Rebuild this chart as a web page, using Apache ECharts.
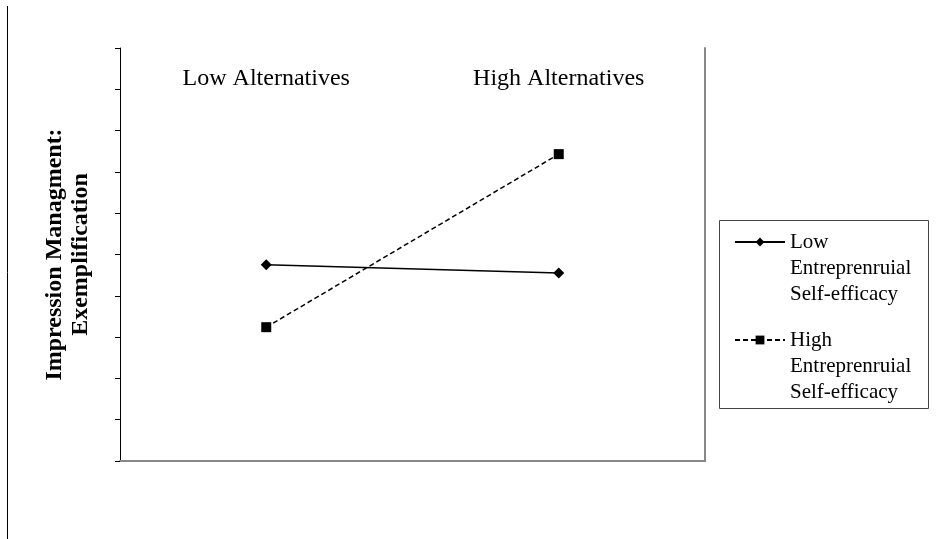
<!DOCTYPE html>
<html>
<head>
<meta charset="utf-8">
<script src="https://cdn.jsdelivr.net/npm/echarts@6/dist/echarts.min.js"></script>
<style>
	html, body { margin: 0; padding: 0; background: #fff; }
	#main { width: 952px; height: 539px; }
</style>
</head>
<body>
<div id="main"></div>
<script>
	// categories and series values (axis 0..10)
	var categories = ['Low Alternatives', 'High Alternatives'];
	var lowSE = [4.75, 4.55];
	var highSE = [3.24, 7.43];
	var seriesNames = ['Low\nEntreprenruial\nSelf-efficacy', 'High\nEntreprenruial\nSelf-efficacy'];
	var yTitle = 'Impression Managment:\nExemplification';

	var serif = '"Liberation Serif", "Times New Roman", serif';

	var myChart = echarts.init(document.getElementById('main'));

	var legendText = {
		fontFamily: serif,
		fontSize: 21,
		color: '#000',
		lineHeight: 26
	};
	// two blank lines first so the icon sits beside the first text line
	var legendFormatter = function (name) {
		return '\n\n' + name;
	};

	myChart.setOption({
		backgroundColor: '#fff',
		animation: false,
		grid: { left: 120, right: 247, top: 48, bottom: 78 },
		xAxis: [{
			type: 'category',
			position: 'top',
			data: categories,
			axisLine: { show: true, lineStyle: { color: '#000', width: 1 } },
			axisTick: { show: false },
			axisLabel: {
				inside: true,
				margin: 19,
				fontFamily: serif,
				fontSize: 24,
				color: '#000'
			}
		}, {
			type: 'category',
			position: 'bottom',
			data: categories,
			axisLine: { show: true, lineStyle: { color: '#888', width: 2 } },
			axisTick: { show: false },
			axisLabel: { show: false }
		}],
		yAxis: [{
			type: 'value',
			min: 0,
			max: 10,
			interval: 1,
			name: yTitle,
			nameLocation: 'middle',
			nameRotate: 90,
			nameGap: 26,
			nameTextStyle: {
				fontFamily: serif,
				fontSize: 24,
				fontWeight: 'bold',
				color: '#000',
				lineHeight: 26
			},
			axisLine: { show: true, lineStyle: { color: '#000', width: 1 } },
			axisTick: { show: true, length: 5, lineStyle: { color: '#000' } },
			axisLabel: { show: false },
			splitLine: { show: false }
		}, {
			type: 'value',
			position: 'right',
			min: 0,
			max: 10,
			axisLine: { show: true, lineStyle: { color: '#888', width: 2 } },
			axisTick: { show: false },
			axisLabel: { show: false },
			splitLine: { show: false }
		}],
		legend: [{
			data: [seriesNames[0]],
			orient: 'vertical',
			left: 734,
			top: 177,
			padding: 0,
			itemWidth: 50,
			itemHeight: 11,
			formatter: legendFormatter,
			textStyle: legendText
		}, {
			data: [seriesNames[1]],
			orient: 'vertical',
			left: 734,
			top: 275,
			padding: 0,
			itemWidth: 50,
			itemHeight: 11,
			formatter: legendFormatter,
			textStyle: legendText
		}],
		graphic: [{
			// page line on the far left
			type: 'line',
			shape: { x1: 7.5, y1: 6, x2: 7.5, y2: 539 },
			style: { stroke: '#000', lineWidth: 1 }
		}, {
			// legend frame
			type: 'rect',
			shape: { x: 719.5, y: 220.5, width: 209, height: 188 },
			style: { fill: 'none', stroke: '#444', lineWidth: 1 },
			z: 0
		}],
		series: [{
			name: seriesNames[0],
			type: 'line',
			data: lowSE,
			symbol: 'diamond',
			symbolSize: 11,
			lineStyle: { color: '#000', width: 1.5, type: 'solid' },
			itemStyle: { color: '#000' }
		}, {
			name: seriesNames[1],
			type: 'line',
			data: highSE,
			symbol: 'rect',
			symbolSize: 10,
			lineStyle: { color: '#000', width: 1.5, type: [5, 3] },
			itemStyle: { color: '#000' }
		}]
	});
</script>
</body>
</html>
